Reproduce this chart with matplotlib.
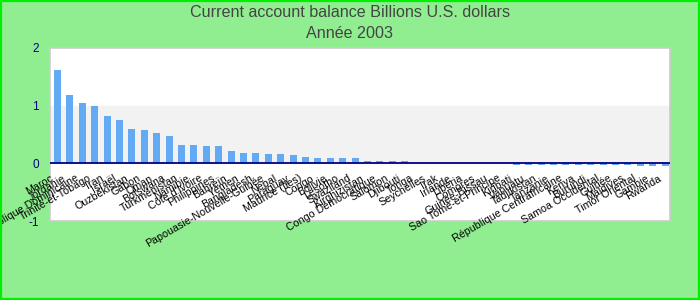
import matplotlib
matplotlib.use("Agg")
import matplotlib.pyplot as plt
from matplotlib.patches import Rectangle

countries = ["Maroc", "Jordanie", "République Dominicaine", "Trinité-et-Tobago", "Iran",
             "Israël", "Ouzbékistan", "Gabon", "Oman", "Botswana",
             "Turkménistan", "Namibie", "Côte d'Ivoire", "Philippines", "Bahreïn",
             "Yémen", "Bangladesh", "Papouasie-Nouvelle-Guinée", "Népal", "Paraguay",
             "Maurice (îles)", "Congo", "Bolivie", "Lesotho", "Swaziland",
             "Kirghizistan", "Congo Démocratique", "Salomon", "Djibouti", "Tonga",
             "Seychelles", "Irak", "Irlande", "Libéria", "Comores",
             "Guinée-Bissau", "Sao Tomé-et-Principe", "Kiribati", "Vanuatu", "Tadjikistan",
             "Tanzanie", "République Centrafricaine", "Kenya", "Burundi", "Samoa Occidental",
             "Guinée", "Maldives", "Timor Oriental", "Gambie", "Rwanda"]
values = [1.61, 1.19, 1.05, 1.00, 0.82,
          0.75, 0.60, 0.58, 0.53, 0.475,
          0.32, 0.32, 0.30, 0.30, 0.21,
          0.18, 0.18, 0.16, 0.16, 0.145,
          0.11, 0.093, 0.093, 0.093, 0.093,
          0.04, 0.04, 0.04, 0.04, 0.0,
          0.0, 0.0, 0.0, 0.0, 0.0,
          0.0, 0.0, -0.03, -0.03, -0.03,
          -0.03, -0.03, -0.03, -0.03, -0.03,
          -0.03, -0.03, -0.05, -0.05, -0.05]
yticks = [-1, 0, 1, 2]
title1 = "Current account balance Billions U.S. dollars"
title2 = "Année 2003"

plt.rcParams['font.family'] = ['Liberation Sans', 'DejaVu Sans']

fig = plt.figure(figsize=(7, 3), dpi=100, facecolor='#90ee90')
ax = fig.add_axes([50/700, 1-221/300, 620/700, 173/300])
ax.set_facecolor('white')

x = list(range(len(values)))
ax.axhspan(0, 1, color='#f2f2f2', zorder=0)
ax.bar(x, values, width=0.57, color='#62aaf4', zorder=2)
ax.axhline(0, color='#000080', lw=1.3, zorder=3)

ax.set_xlim(-0.6, len(values) - 0.6)
ax.set_ylim(-1, 2)
ax.set_yticks(yticks)
ax.set_yticklabels([str(v) for v in yticks], color='#000080', fontsize=8.5)
ax.tick_params(axis='y', length=0, pad=8)
ax.set_xticks([])
for s in ax.spines.values():
    s.set_color('#cccccc')
    s.set_linewidth(1.2)

for i, name in enumerate(countries):
    ax.annotate(name, xy=(i, 0), xytext=(-5, -7), textcoords='offset points',
                rotation=30, ha='right', va='top', rotation_mode='anchor',
                fontsize=7.7, color='black', zorder=4, annotation_clip=False)

tfam = ['Liberation Sans', 'DejaVu Sans']
fig.text(0.5, 1-12.5/300, title1, ha='center', va='center', fontsize=11.6,
         color='#444444', family=tfam)
fig.text(0.5, 1-33/300, title2, ha='center', va='center', fontsize=11.6,
         color='#444444', family=tfam)

fig.patches.append(Rectangle((0.0015, 0.003), 0.997, 0.994, transform=fig.transFigure,
                             fill=False, edgecolor='#00ee00', lw=1.6))

fig.savefig('out.png', dpi=100, facecolor=fig.get_facecolor())
